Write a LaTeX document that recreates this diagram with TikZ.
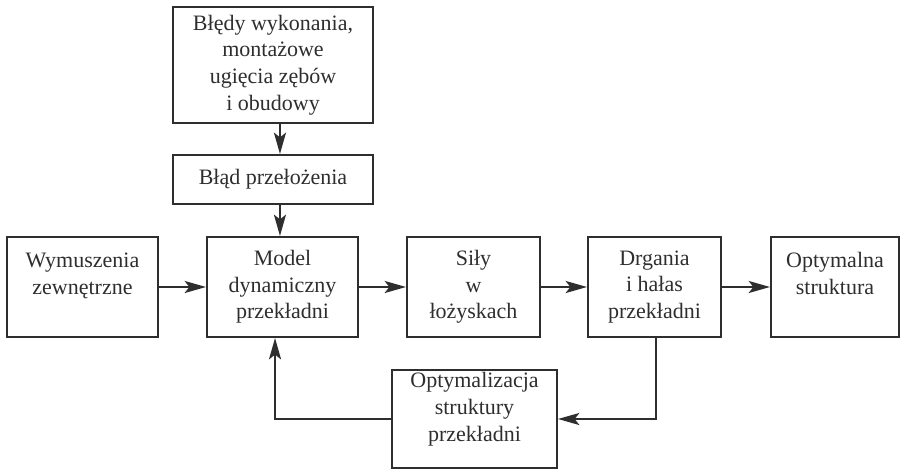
\documentclass[tikz,border=0pt]{standalone}
\usepackage{fontspec}
\setmainfont{Liberation Serif}
\usetikzlibrary{arrows.meta}
\definecolor{ink}{HTML}{2E2E2E}
\begin{document}
\begin{tikzpicture}[x=0.75pt,y=-0.75pt,
  blk/.style={draw=ink, line width=1.5pt, text=ink, align=center,
    font=\fontsize{16.5pt}{20pt}\selectfont, inner sep=0pt},
  conn/.style={draw=ink, line width=1.5pt,
    -{Stealth[length=16pt,width=9pt,inset=3.5pt]}}]
\useasboundingbox (0,0) rectangle (900,472);
\node[blk, minimum width=200*0.75pt, minimum height=116*0.75pt] (err) at (273,65)
  {Błędy wykonania,\\montażowe\\ugięcia zębów\\i obudowy};
\node[blk, minimum width=200*0.75pt, minimum height=49*0.75pt] (bp) at (273,179.5)
  {Błąd przełożenia};
\node[blk, minimum width=151*0.75pt, minimum height=100*0.75pt] (wym) at (82.5,287)
  {Wymuszenia\\zewnętrzne\\~};
\node[blk, minimum width=151*0.75pt, minimum height=100*0.75pt] (model) at (282.5,287)
  {Model\\dynamiczny\\przekładni};
\node[blk, minimum width=133*0.75pt, minimum height=100*0.75pt] (sily) at (473.5,287)
  {Siły\\w\\łożyskach};
\node[blk, minimum width=133*0.75pt, minimum height=100*0.75pt] (drg) at (654.5,287)
  {Drgania\\i hałas\\przekładni};
\node[blk, minimum width=128*0.75pt, minimum height=100*0.75pt] (opt) at (835,287)
  {Optymalna\\struktura\\~};
\node[blk, minimum width=165*0.75pt, minimum height=98*0.75pt, text depth=18pt] (optz) at (474.5,419)
  {Optymalizacja\\struktury\\przekładni};
\coordinate (mtop) at ([xshift=-1.9pt]model.north);
\coordinate (mbot) at ([xshift=-5.6pt]model.south);
\coordinate (dbot) at ([xshift=1.1pt]drg.south);
\draw[conn] (err.south -| mtop) -- (bp.north -| mtop);
\draw[conn] (bp.south -| mtop) -- (mtop);
\draw[conn] (wym) -- (model);
\draw[conn] (model) -- (sily);
\draw[conn] (sily) -- (drg);
\draw[conn] (drg) -- (opt);
\draw[conn] (dbot) |- (optz.east);
\draw[conn] (optz.west) -| (mbot);
\end{tikzpicture}
\end{document}
